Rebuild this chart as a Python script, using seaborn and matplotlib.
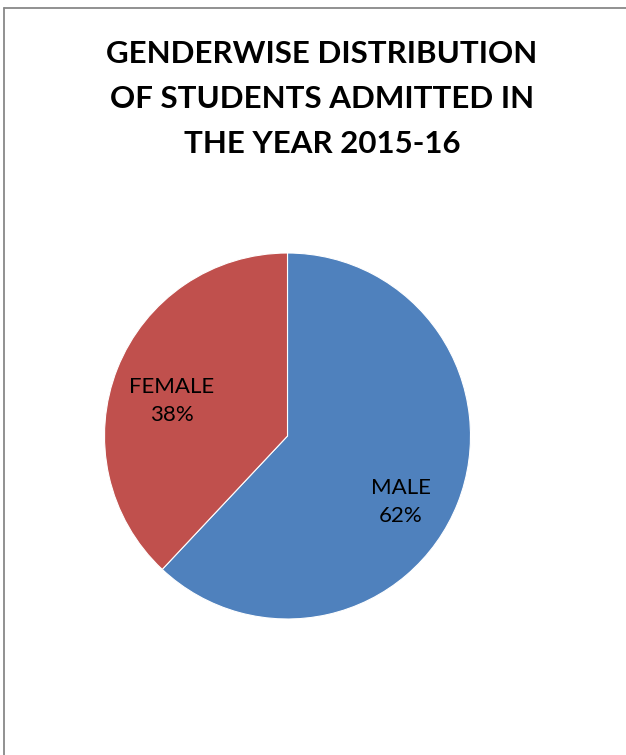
import numpy as np
import matplotlib
matplotlib.use("Agg")
import matplotlib.pyplot as plt
from matplotlib.lines import Line2D
import seaborn as sns

# data
genders = ["MALE", "FEMALE"]
shares = [62, 38]
slice_colors = ["#4F81BD", "#C0504D"]
title_lines = ["GENDERWISE DISTRIBUTION", "OF STUDENTS ADMITTED IN", "THE YEAR 2015-16"]

# label placement (angle in degrees, radius as fraction of pie radius)
label_layout = {"MALE": (-30.2, 0.717), "FEMALE": (163.0, 0.663)}

sns.set_theme(style="white")
plt.rcParams['font.family'] = ['Lato', 'DejaVu Sans']

W, H = 626, 755
fig = plt.figure(figsize=(W / 100, H / 100), dpi=100)
fig.patch.set_facecolor("white")

# pie box: center (287.5, 436) px, radius 183 px
cx, cy, r = 287.5, 436, 183
ax = fig.add_axes([(cx - r) / W, (H - cy - r) / H, 2 * r / W, 2 * r / H])

wedges, _ = ax.pie(
    shares,
    colors=slice_colors,
    startangle=90,
    counterclock=False,
    radius=1,
    wedgeprops=dict(edgecolor="white", linewidth=0.8),
)
ax.set_xlim(-1, 1)
ax.set_ylim(-1, 1)
ax.set_axis_off()

total = sum(shares)
for name, val in zip(genders, shares):
    ang, rad = label_layout[name]
    x = rad * np.cos(np.radians(ang))
    y = rad * np.sin(np.radians(ang))
    ax.text(x, y, f"{name}\n{val / total:.0%}", ha="center", va="center",
            fontsize=16, color="black", linespacing=1.5)

# title lines
for i, line in enumerate(title_lines):
    fig.text(322 / W, 1 - (54 + 45 * i) / H, line, ha="center", va="center",
             fontsize=22.5, fontweight="bold", color="black")

# chart-area border (top and left edges visible)
fig.add_artist(Line2D([3.5 / W, 1], [1 - 7.5 / H, 1 - 7.5 / H], color="#888888", lw=1.3))
fig.add_artist(Line2D([3.5 / W, 3.5 / W], [0, 1 - 7.5 / H], color="#888888", lw=1.3))

fig.savefig("out.png", dpi=100, facecolor="white")
